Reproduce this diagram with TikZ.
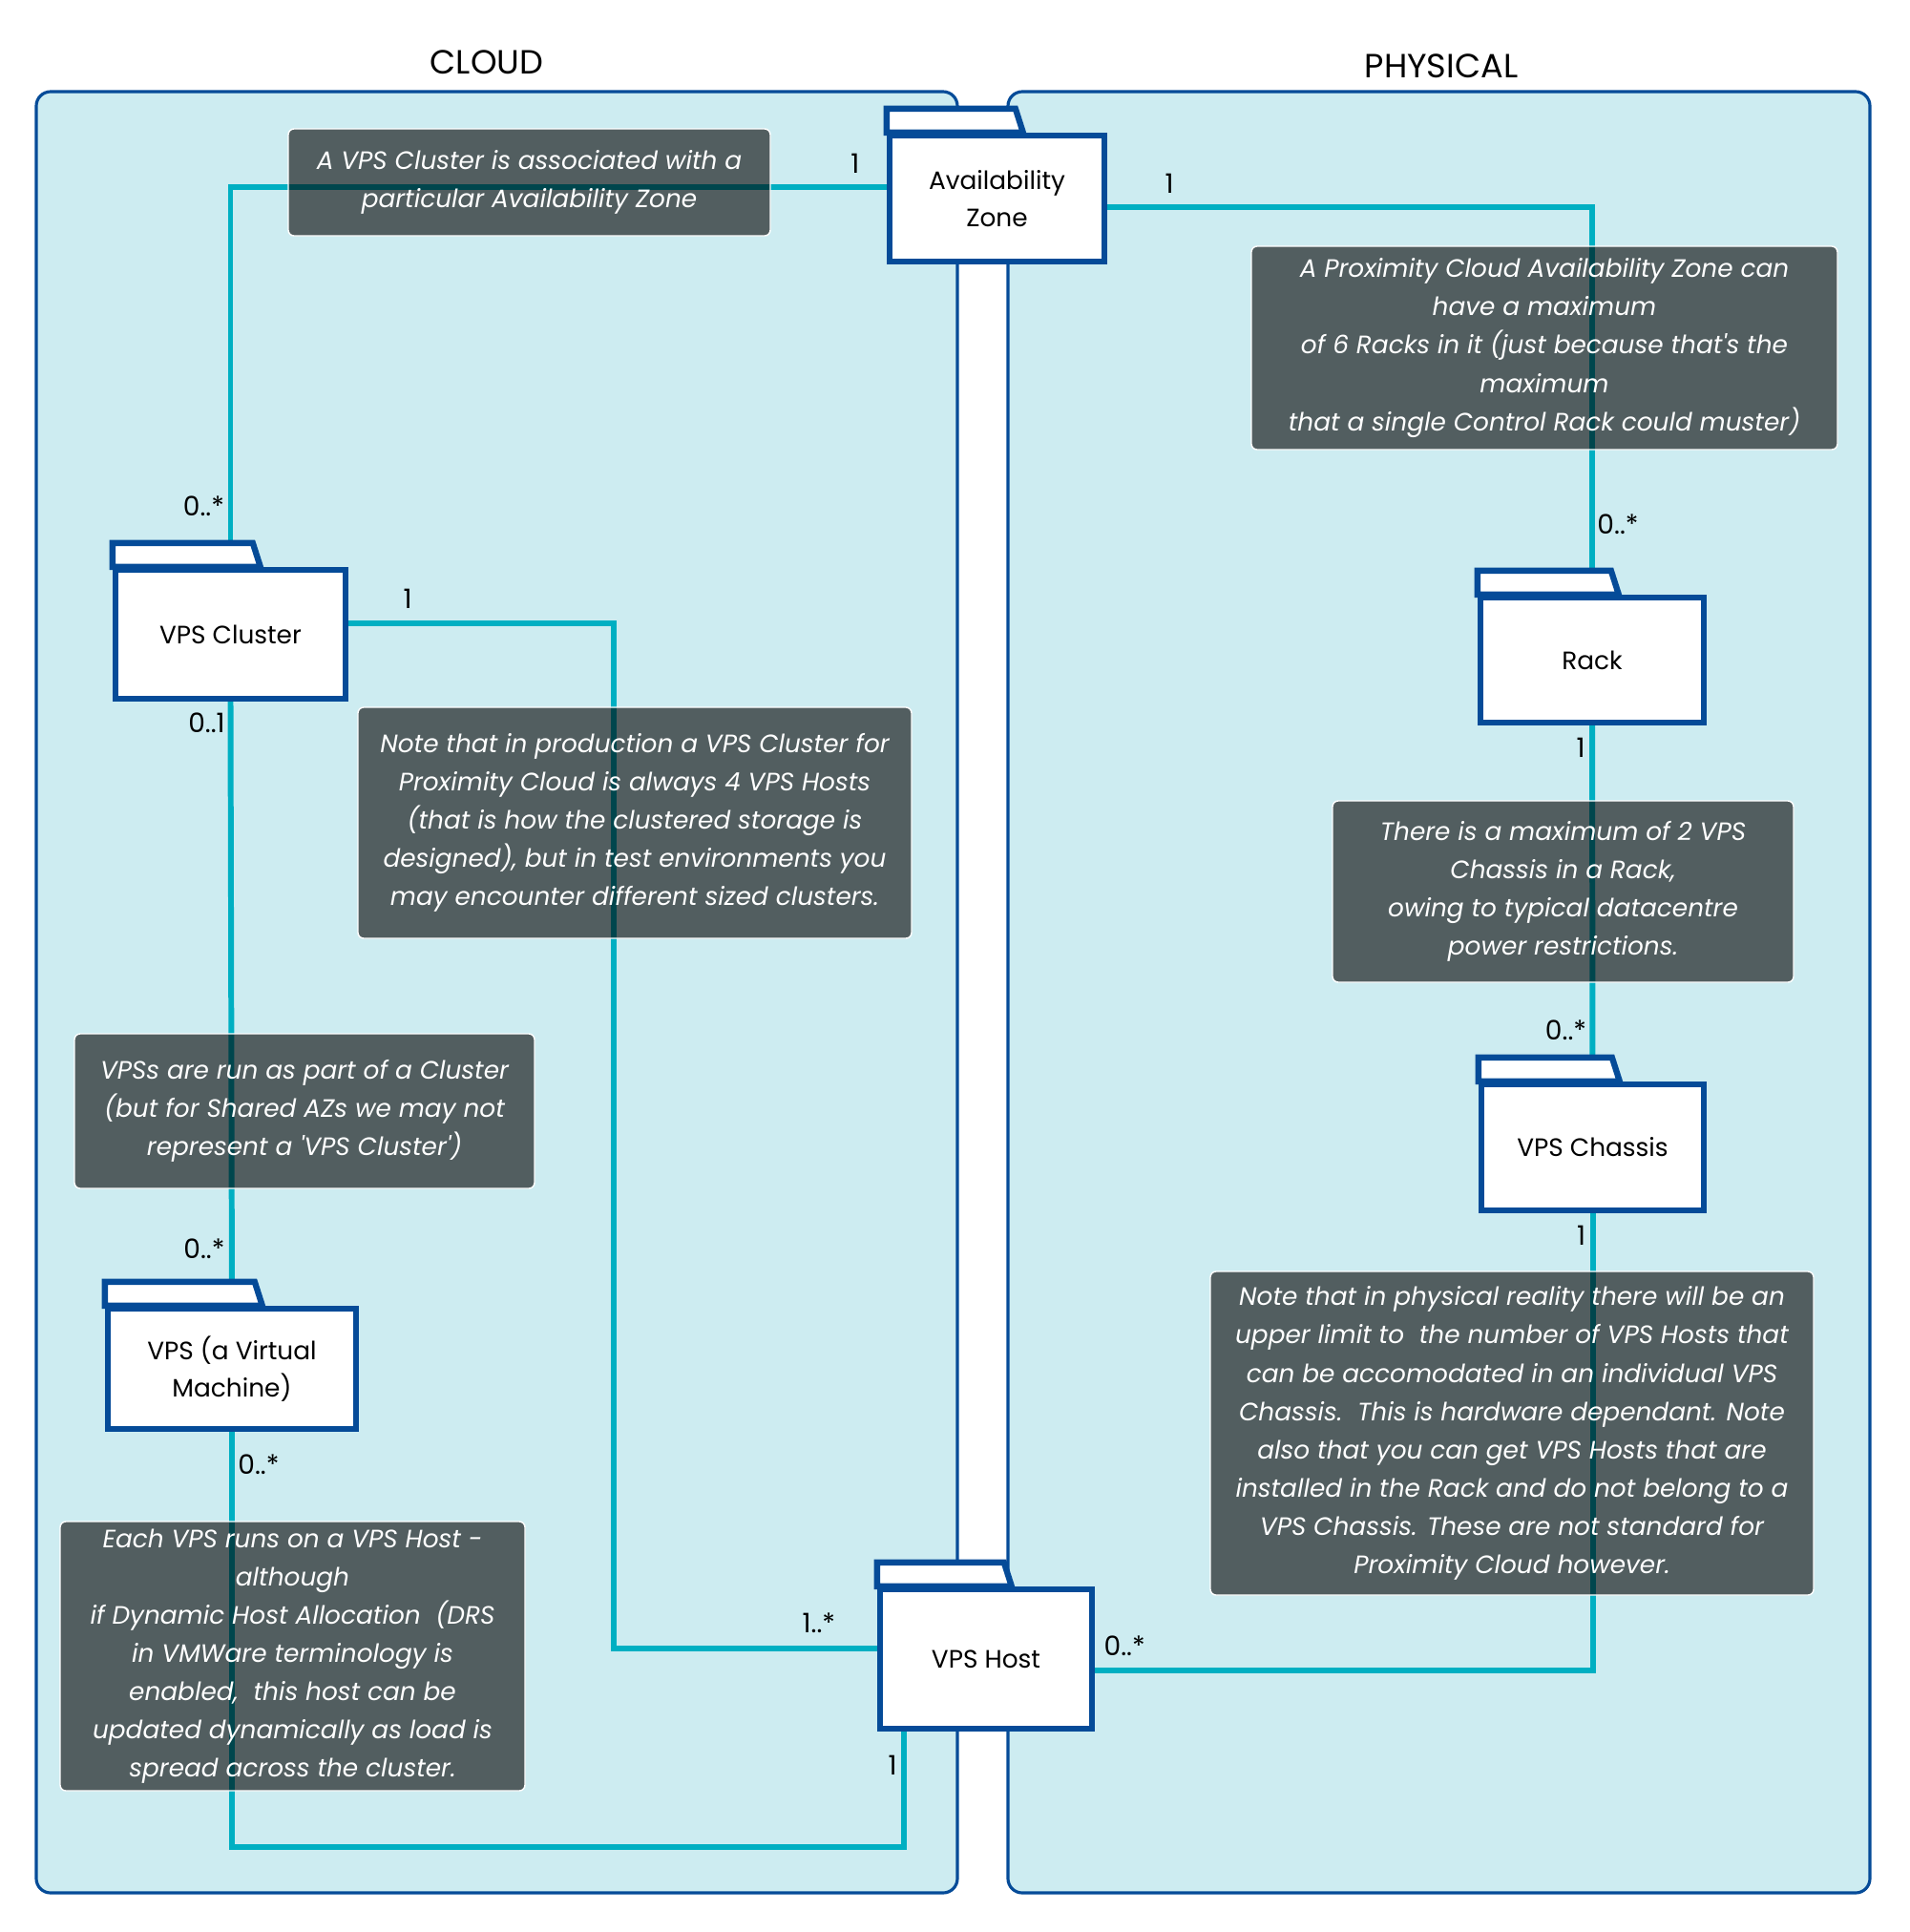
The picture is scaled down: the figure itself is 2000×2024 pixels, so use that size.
\documentclass[tikz,border=0pt]{standalone}
\usepackage{fontspec}
\setmainfont{Poppins}
\usetikzlibrary{positioning}

\definecolor{framefill}{HTML}{CDECF1}
\definecolor{pkgblue}{HTML}{054B98}
\definecolor{linkteal}{HTML}{00AFC2}

\pgfdeclarelayer{bg}
\pgfdeclarelayer{lines}
\pgfsetlayers{bg,lines,main}

% tab on top of a package box: node name, tab width
\newcommand{\pkgtab}[2]{\draw[pkgtabline] (#1.north west) -- ++(0,-25) -- ++(#2,0) -- ++(8,25) -- cycle;}

\begin{document}
\begin{tikzpicture}[x=0.1mm, y=-0.1mm]

\tikzstyle{frame} = [draw=pkgblue, line width=0.9pt, fill=framefill, rounded corners=1.5mm]

\tikzstyle{pkg} = [rectangle, draw=pkgblue, line width=1.8pt, fill=white, inner sep=0pt, align=center, font=\fontsize{7.5}{11.2}\selectfont]

\tikzstyle{pkgtabline} = [draw=pkgblue, line width=1.8pt, fill=white]

\tikzstyle{note} = [rectangle, rounded corners=0.6mm, draw=white, line width=0.4pt, fill=black, fill opacity=0.6, text opacity=1, text=white, align=center, inner sep=0pt, font=\itshape\fontsize{7.5}{11.4}\selectfont]

\tikzstyle{link} = [draw=linkteal, line width=1.7pt]

\tikzstyle{mult} = [inner sep=0pt, font=\fontsize{8}{10}\selectfont]

\useasboundingbox (0,0) rectangle (2000,2024);

\begin{pgfonlayer}{bg}
    \draw[frame] (38,96) rectangle (1003,1983);
    \draw[frame] (1056,96) rectangle (1959,1983);
\end{pgfonlayer}

    \node [font=\fontsize{10}{12}\selectfont] (cloudtitle) at (510,65) {CLOUD};
    \node [font=\fontsize{10}{12}\selectfont] (physicaltitle) at (1510,69) {PHYSICAL};

    % packages
    \node [pkg, minimum width=22.5mm, minimum height=13.2mm] (az) at (1044.5,208) {Availability\\Zone};
    \pkgtab{az}{135}
    \node [pkg, minimum width=24.1mm, minimum height=13.5mm] (cl) at (241.5,664.5) {VPS Cluster};
    \pkgtab{cl}{147}
    \node [pkg, minimum width=26mm, minimum height=12.6mm] (vps) at (243,1434) {VPS (a Virtual\\Machine)};
    \pkgtab{vps}{157}
    \node [pkg, minimum width=22.2mm, minimum height=14.6mm] (host) at (1033,1738) {VPS Host};
    \pkgtab{host}{133}
    \node [pkg, minimum width=23.4mm, minimum height=13.1mm] (rack) at (1668,691.5) {Rack};
    \pkgtab{rack}{140}
    \node [pkg, minimum width=23.3mm, minimum height=13.2mm] (chassis) at (1668.5,1202) {VPS Chassis};
    \pkgtab{chassis}{140}

    % notes
    \node [note, minimum width=50.5mm, minimum height=11.2mm] (n1) at (554.5,191) {A VPS Cluster is associated with a\\particular Availability Zone};
    \node [note, minimum width=61.4mm, minimum height=21.3mm] (n2) at (1618,364.5) {A Proximity Cloud Availability Zone can\\have a maximum\\of 6 Racks in it (just because that\textquotesingle s the\\maximum\\that a single Control Rack could muster)};
    \node [note, minimum width=58mm, minimum height=24.2mm] (n3) at (665,862) {Note that in production a VPS Cluster for\\Proximity Cloud is always 4 VPS Hosts\\(that is how the clustered storage is\\designed), but in test environments you\\may encounter different sized clusters.};
    \node [note, minimum width=48.2mm, minimum height=16.2mm] (n4) at (319,1164) {VPSs are run as part of a Cluster\\(but for Shared AZs we may not\\represent a \textquotesingle VPS Cluster\textquotesingle)};
    \node [note, minimum width=48.3mm, minimum height=19mm] (n5) at (1637.5,934) {There is a maximum of 2 VPS\\Chassis in a Rack,\\owing to typical datacentre\\power restrictions.};
    \node [note, minimum width=63.2mm, minimum height=33.9mm] (n6) at (1584,1501.5) {Note that in physical reality there will be an\\upper limit to\ \ the number of VPS Hosts that\\can be accomodated in an individual VPS\\Chassis.\ \ This is hardware dependant. Note\\also that you can get VPS Hosts that are\\installed in the Rack and do not belong to a\\VPS Chassis. These are not standard for\\Proximity Cloud however.};
    \node [note, minimum width=48.7mm, minimum height=28.2mm] (n7) at (306.5,1735) {Each VPS runs on a VPS Host -\\although\\if Dynamic Host Allocation\ \ (DRS\\in VMWare terminology is\\enabled,\ \ this host can be\\updated dynamically as load is\\spread across the cluster.};

\begin{pgfonlayer}{lines}
    \draw[link] ([yshift=1.2mm]az.west) -| (cl.north)
        node [mult, at start, xshift=-3.3mm, yshift=2.5mm] {1}
        node [mult, at end, xshift=-2.8mm, yshift=6.4mm] {0..*};
    \draw[link] ([yshift=-0.9mm]az.east) -| (rack.north)
        node [mult, at start, xshift=6.5mm, yshift=2.5mm] {1}
        node [mult, at end, xshift=2.7mm, yshift=7.4mm] {0..*};
    \draw[link] (rack.south) -- (chassis.north)
        node [mult, at start, xshift=-1.2mm, yshift=-2.3mm] {1}
        node [mult, at end, xshift=-2.8mm, yshift=5.4mm] {0..*};
    \draw[link] (chassis.south) |- ([yshift=-1.15mm]host.east)
        node [mult, at start, xshift=-1.2mm, yshift=-2.3mm] {1}
        node [mult, at end, xshift=3.1mm, yshift=2.5mm] {0..*};
    \draw[link] ([yshift=1.15mm]cl.east) -- ++(278,0)
        node [mult, at start, xshift=6.2mm, yshift=2.6mm] {1}
        |- ([yshift=1.15mm]host.west)
        node [mult, at end, xshift=-6.1mm, yshift=2.6mm] {1..*};
    \draw[link] (cl.south) -- (vps.north)
        node [mult, at start, xshift=-2.5mm, yshift=-2.2mm] {0..1}
        node [mult, at end, xshift=-2.9mm, yshift=6mm] {0..*};
    \draw[link] (vps.south) -- ++(0,435)
        node [mult, at start, xshift=2.8mm, yshift=-3.4mm] {0..*}
        -| ([xshift=-8.6mm]host.south)
        node [mult, at end, xshift=-1.2mm, yshift=-3.5mm] {1};
\end{pgfonlayer}

\end{tikzpicture}
\end{document}
